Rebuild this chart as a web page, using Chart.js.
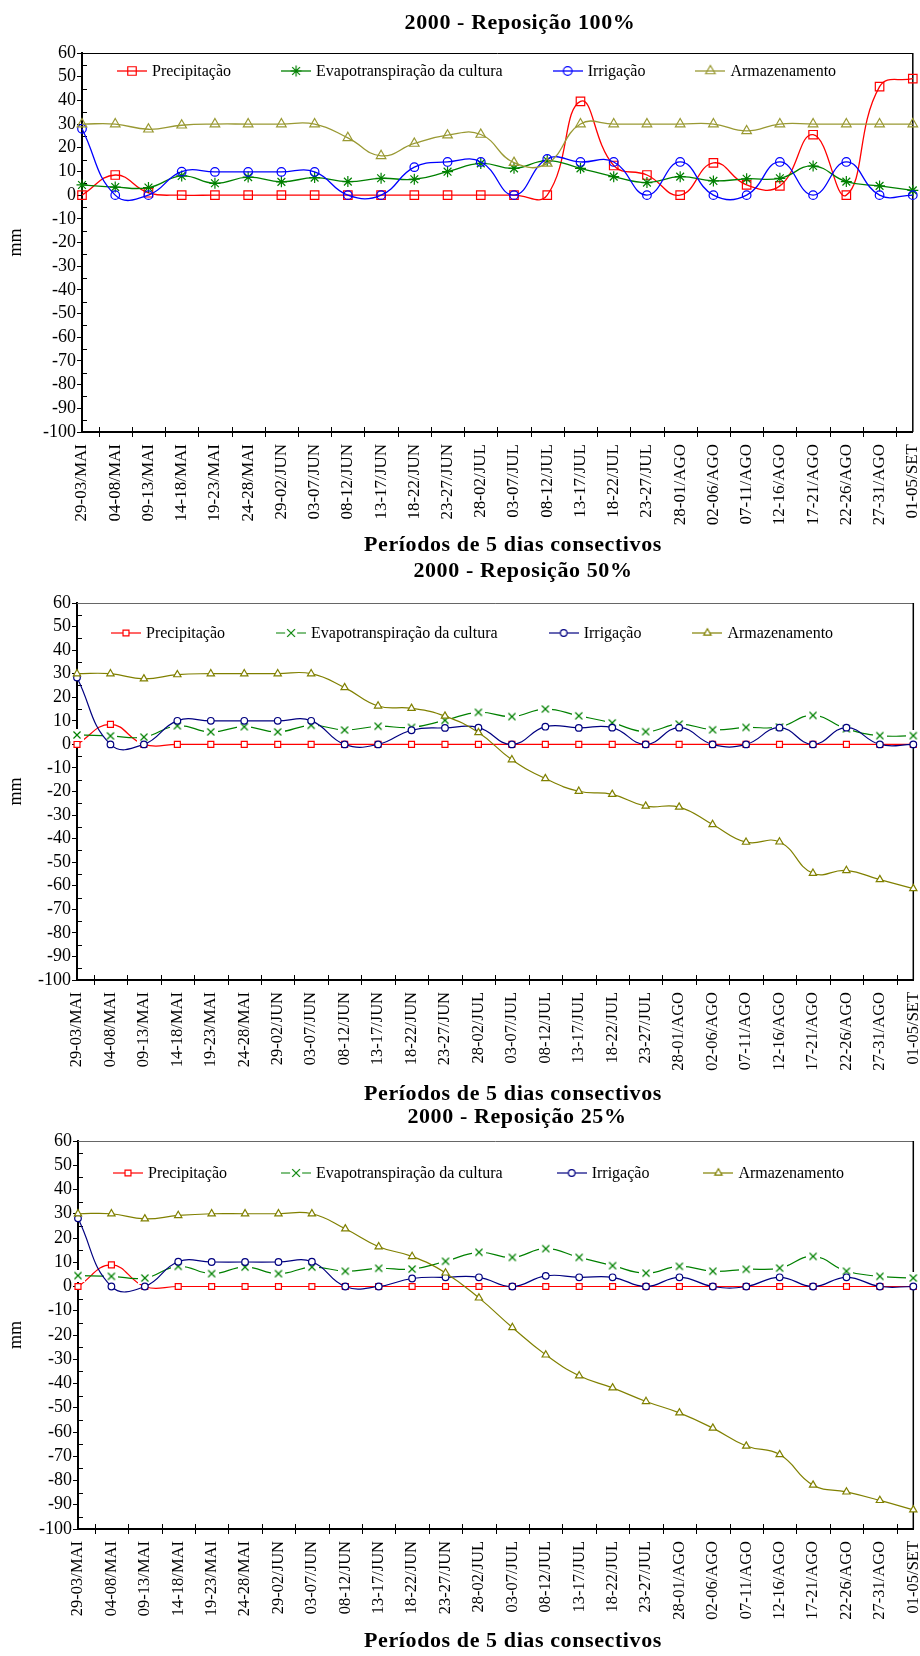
<!DOCTYPE html>
<html lang="pt">
<head>
<meta charset="utf-8">
<title>2000 - Reposição</title>
<script src="https://cdn.jsdelivr.net/npm/chart.js@4.4.1/dist/chart.umd.min.js"></script>
<style>
  html, body { margin: 0; padding: 0; background: #fff; }
  body { position: relative; width: 920px; height: 1656px; overflow: hidden; font-family: 'Liberation Serif', 'Times New Roman', serif; color: #000; }
  .panel { position: absolute; left: 0; width: 920px; }
  .panel canvas { display: block; }
  .chart-title, .x-title { position: absolute; text-align: center; font-weight: bold; white-space: nowrap; z-index: 2; }
  .chart-title { left: 320px; width: 400px; font-size: 22px; line-height: 26px; letter-spacing: 0.6px; }
  .x-title { left: 313px; width: 400px; font-size: 22px; line-height: 24px; letter-spacing: 0.6px; }
</style>
</head>
<body>
<div class="panel" style="top:0px"><canvas id="chart100" width="920" height="548"></canvas></div>
<div class="panel" style="top:548px"><canvas id="chart50" width="920" height="550"></canvas></div>
<div class="panel" style="top:1098px"><canvas id="chart25" width="920" height="558"></canvas></div>

<div class="chart-title" style="top:9px">2000 - Reposição 100%</div>
<div class="x-title" style="top:532px">Períodos de 5 dias consectivos</div>
<div class="chart-title" style="top:557px; left:323px">2000 - Reposição 50%</div>
<div class="x-title" style="top:1081px">Períodos de 5 dias consectivos</div>
<div class="chart-title" style="top:1103px; left:317px">2000 - Reposição 25%</div>
<div class="x-title" style="top:1628px">Períodos de 5 dias consectivos</div>

<script>
// 5-day periods, May to September 2000
const categories = ['29-03/MAI', '04-08/MAI', '09-13/MAI', '14-18/MAI', '19-23/MAI', '24-28/MAI',
    '29-02/JUN', '03-07/JUN', '08-12/JUN', '13-17/JUN', '18-22/JUN', '23-27/JUN',
    '28-02/JUL', '03-07/JUL', '08-12/JUL', '13-17/JUL', '18-22/JUL', '23-27/JUL',
    '28-01/AGO', '02-06/AGO', '07-11/AGO', '12-16/AGO', '17-21/AGO', '22-26/AGO',
    '27-31/AGO', '01-05/SET'];

const seriesLabels = ['Precipitação', 'Evapotranspiração da cultura', 'Irrigação', 'Armazenamento'];

// Reposição 100%
const precip100 = [0, 8.5, 1, 0, 0, 0, 0, 0, 0, 0, 0, 0, 0, 0, 0, 39.6, 12.5, 8.5, 0, 13.6, 4.3, 3.9, 25.5, 0, 45.8, 49.2];
const evapo100 = [4.3, 3.4, 3.2, 8.1, 5.0, 7.6, 5.6, 7.4, 5.7, 7.1, 6.7, 9.9, 13.4, 11.3, 14.6, 11.3, 7.8, 5.3, 7.8, 6.0, 6.9, 7.1, 12.3, 5.7, 3.9, 2.0];
const irrig100 = [28.0, 0, 0, 9.9, 9.8, 9.8, 9.8, 9.8, 0, 0, 11.8, 14.0, 14.0, 0, 15.3, 14.0, 14.0, 0, 14.0, 0, 0, 14.0, 0, 14.0, 0, 0];
const armaz100 = [30, 30, 27.8, 29.5, 30, 30, 30, 30, 24.2, 16.6, 21.8, 25.3, 25.6, 13.7, 13.4, 30, 30, 30, 30, 30, 27.1, 30, 30, 30, 30, 30];

// Reposição 50%
const precip50 = [0, 8.5, 0, 0, 0, 0, 0, 0, 0, 0, 0, 0, 0, 0, 0, 0, 0, 0, 0, 0, 0, 0, 0, 0, 0, 0];
const evapo50 = [4.0, 3.6, 3.1, 7.9, 5.3, 7.5, 5.3, 8.1, 6.1, 7.7, 7.2, 10.2, 13.6, 11.8, 15.0, 12.1, 9.1, 5.4, 8.6, 6.2, 7.2, 7.4, 12.3, 6.6, 3.7, 3.7];
const irrig50 = [28.4, 0, 0, 10, 10, 10, 10, 10, 0, 0, 6.0, 7.0, 7.1, 0, 7.5, 7.0, 7.1, 0, 7.1, 0, 0, 7.1, 0, 7.1, 0, 0];
const armaz50 = [30, 30, 27.8, 29.6, 30, 30, 30, 30, 24.1, 16.3, 15.3, 12.0, 5.0, -6.5, -14.5, -19.9, -21.2, -26.2, -26.6, -34.0, -41.5, -41.4, -54.7, -53.5, -57.4, -61.2];

// Reposição 25%
const precip25 = [0, 8.9, 0, 0, 0, 0, 0, 0, 0, 0, 0, 0, 0, 0, 0, 0, 0, 0, 0, 0, 0, 0, 0, 0, 0, 0];
const evapo25 = [4.5, 4.2, 3.5, 8.3, 5.3, 8.0, 5.3, 8.0, 6.3, 7.5, 7.2, 10.4, 14.1, 12.0, 15.6, 12.0, 8.6, 5.5, 8.3, 6.3, 7.1, 7.6, 12.4, 6.3, 4.2, 3.5];
const irrig25 = [28.1, 0, 0, 10.2, 10.1, 10.1, 10.1, 10.2, 0, 0, 3.3, 3.8, 3.8, 0, 4.4, 3.8, 3.8, 0, 3.8, 0, 0, 3.8, 0, 3.8, 0, 0];
const armaz25 = [30, 30, 27.9, 29.3, 30, 30, 30, 30, 23.8, 16.4, 12.4, 5.6, -4.7, -16.9, -28.2, -36.8, -41.8, -47.4, -52.1, -58.4, -65.8, -69.3, -81.9, -84.7, -88.2, -92.1];

// y axis range (mm)
const yMin = -100;
const yMax = 60;
const yStep = 10;

const FONT = "'Liberation Serif', 'Times New Roman', serif";
const LEGEND_SIZE = 16;
const TENSION = 0.45;

Chart.defaults.font.family = FONT;
Chart.defaults.color = '#000';

// draws one marker shape, used for the legend icons
function drawMarker(ctx, kind, x, y, r, color, fill, lw) {
    ctx.save();
    ctx.strokeStyle = color;
    ctx.fillStyle = fill;
    ctx.lineWidth = lw;
    ctx.beginPath();
    const k = Math.sin(Math.PI / 3);
    const d = r * Math.SQRT1_2;
    if (kind === 'rect') {
        ctx.rect(x - d, y - d, 2 * d, 2 * d);
    } else if (kind === 'circle') {
        ctx.arc(x, y, r, 0, Math.PI * 2);
    } else if (kind === 'triangle') {
        ctx.moveTo(x, y - r);
        ctx.lineTo(x + r * k, y + r / 2);
        ctx.lineTo(x - r * k, y + r / 2);
        ctx.closePath();
    } else if (kind === 'star') {
        ctx.moveTo(x, y - r); ctx.lineTo(x, y + r);
        ctx.moveTo(x - r, y); ctx.lineTo(x + r, y);
        ctx.moveTo(x - d, y - d); ctx.lineTo(x + d, y + d);
        ctx.moveTo(x - d, y + d); ctx.lineTo(x + d, y - d);
    } else if (kind === 'crossRot') {
        ctx.moveTo(x - d, y - d); ctx.lineTo(x + d, y + d);
        ctx.moveTo(x - d, y + d); ctx.lineTo(x + d, y - d);
    }
    if (kind === 'rect' || kind === 'circle' || kind === 'triangle') {
        ctx.fill();
    }
    ctx.stroke();
    ctx.restore();
}

// "x" marker on a small white box, so the line stops short of it
function crossPoint(color, r) {
    const c = document.createElement('canvas');
    c.width = 14;
    c.height = 12;
    const ctx = c.getContext('2d');
    ctx.fillStyle = '#fff';
    ctx.fillRect(0, 0, 14, 12);
    drawMarker(ctx, 'crossRot', 7, 6, r, color, 'transparent', 1.2);
    return c;
}

function legendIcon(st) {
    const c = document.createElement('canvas');
    c.width = 30;
    c.height = 16;
    const ctx = c.getContext('2d');
    ctx.strokeStyle = st.color;
    ctx.lineWidth = st.lw;
    ctx.beginPath();
    if (st.gap) {
        ctx.moveTo(0, 8); ctx.lineTo(9, 8);
        ctx.moveTo(21, 8); ctx.lineTo(30, 8);
    } else {
        ctx.moveTo(0, 8); ctx.lineTo(30, 8);
    }
    ctx.stroke();
    drawMarker(ctx, st.marker, 15, 8, st.legendR || st.r, st.color, st.fill, 1.2);
    return c;
}

const stylesBig = [
    {color: '#FF0000', marker: 'rect', r: 6, fill: 'rgba(0,0,0,0)', lw: 1.3},
    {color: '#008000', marker: 'star', r: 5.5, fill: 'rgba(0,0,0,0)', lw: 1.3},
    {color: '#0000FF', marker: 'circle', r: 4.3, fill: 'rgba(0,0,0,0)', lw: 1.3},
    {color: '#999933', marker: 'triangle', r: 5.5, fill: 'rgba(0,0,0,0)', lw: 1.3}
];
const stylesSmall = [
    {color: '#FF0000', marker: 'rect', r: 4.2, fill: '#fff', lw: 1.2},
    {color: '#008000', marker: 'crossRot', r: 5.5, fill: 'rgba(0,0,0,0)', lw: 1.2, gap: true},
    {color: '#000080', marker: 'circle', r: 3.3, fill: '#fff', lw: 1.2},
    {color: '#808000', marker: 'triangle', r: 4.2, fill: '#fff', lw: 1.2}
];

function makeDatasets(values, styles) {
    return values.map((data, i) => {
        const st = styles[i];
        const pointStyle = st.gap ? crossPoint(st.color, 5) : st.marker;
        return {
            label: seriesLabels[i],
            data: data,
            borderColor: st.color,
            backgroundColor: st.color,
            borderWidth: st.lw,
            pointStyle: pointStyle,
            pointRadius: st.r,
            pointBorderWidth: 1.2,
            pointBorderColor: st.color,
            pointBackgroundColor: st.fill,
            tension: TENSION,
            clip: false,
            order: 3 - i
        };
    });
}

// plot frame, minor ticks and the line+marker legend inside the plot
const framePlugin = {
    id: 'frame',
    beforeDatasetsDraw(chart, args, opts) {
        const {ctx, chartArea: a, scales} = chart;
        const x = scales.x, y = scales.y;
        ctx.save();
        ctx.strokeStyle = opts.topColor;
        ctx.lineWidth = 1;
        ctx.beginPath();
        ctx.moveTo(a.left, a.top + 0.5);
        ctx.lineTo(a.right, a.top + 0.5);
        ctx.stroke();
        ctx.strokeStyle = '#000';
        ctx.lineWidth = 1.5;
        ctx.beginPath();
        ctx.moveTo(a.right, a.top);
        ctx.lineTo(a.right, a.bottom);
        ctx.stroke();

        ctx.lineWidth = 1;
        ctx.beginPath();
        for (let v = yMin + yStep / 2; v < yMax; v += yStep) {
            const py = Math.round(y.getPixelForValue(v)) + 0.5;
            ctx.moveTo(a.left, py);
            ctx.lineTo(a.left + 5, py);
        }
        for (let i = 0; i < categories.length - 1; i++) {
            const px = Math.round((x.getPixelForValue(i) + x.getPixelForValue(i + 1)) / 2) + 0.5;
            ctx.moveTo(px, a.bottom - 5);
            ctx.lineTo(px, a.bottom + 5);
        }
        ctx.stroke();
        ctx.restore();
    },
    afterDatasetsDraw(chart, args, opts) {
        const ctx = chart.ctx;
        ctx.save();
        ctx.font = LEGEND_SIZE + 'px ' + FONT;
        ctx.textBaseline = 'middle';
        ctx.textAlign = 'left';
        ctx.fillStyle = '#000';
        let lx = opts.legendX;
        chart.data.datasets.forEach((ds, i) => {
            const icon = opts.icons[i];
            ctx.drawImage(icon, lx, opts.legendY - icon.height / 2);
            const tx = lx + icon.width + 5;
            ctx.fillText(ds.label, tx, opts.legendY + 1);
            lx = tx + ctx.measureText(ds.label).width + opts.legendGap;
        });
        ctx.restore();
    }
};

function buildChart(cfg) {
    const canvas = document.getElementById(cfg.id);
    const H = canvas.height;
    return new Chart(canvas.getContext('2d'), {
        type: 'line',
        data: {
            labels: categories,
            datasets: makeDatasets(cfg.values, cfg.styles)
        },
        options: {
            responsive: false,
            animation: false,
            events: [],
            layout: {
                padding: {top: cfg.top, right: 920 - cfg.right, bottom: 0, left: 0}
            },
            plugins: {
                legend: {display: false},
                tooltip: {enabled: false},
                frame: {
                    topColor: cfg.topColor,
                    icons: cfg.styles.map(legendIcon),
                    legendX: cfg.legendX,
                    legendY: cfg.legendY,
                    legendGap: cfg.legendGap
                }
            },
            scales: {
                x: {
                    type: 'category',
                    offset: false,
                    grid: {display: false},
                    border: {display: true, color: '#000', width: 2},
                    ticks: {
                        autoSkip: false,
                        minRotation: 90,
                        maxRotation: 90,
                        padding: 4,
                        color: '#000',
                        font: {size: cfg.xFont}
                    },
                    afterFit: s => {
                        s.height = H - cfg.bottom;
                        s.paddingLeft = 0;
                        s.paddingRight = 0;
                    }
                },
                y: {
                    min: yMin,
                    max: yMax,
                    grid: {
                        display: true,
                        drawOnChartArea: false,
                        drawTicks: true,
                        tickLength: 5,
                        color: '#000',
                        lineWidth: 1
                    },
                    border: {display: true, color: '#000', width: 2},
                    ticks: {
                        stepSize: yStep,
                        autoSkip: false,
                        padding: 1,
                        color: '#000',
                        font: {size: 18}
                    },
                    title: {
                        display: true,
                        text: 'mm',
                        color: '#000',
                        font: {size: 18},
                        padding: {top: 5, bottom: 0}
                    },
                    afterFit: s => {
                        s.width = cfg.left;
                    }
                }
            }
        },
        plugins: [framePlugin]
    });
}

buildChart({
    id: 'chart100',
    values: [precip100, evapo100, irrig100, armaz100],
    styles: stylesBig,
    top: 53, bottom: 432, left: 82, right: 913,
    topColor: '#000', xFont: 17,
    legendX: 117, legendY: 71, legendGap: 50
});

buildChart({
    id: 'chart50',
    values: [precip50, evapo50, irrig50, armaz50],
    styles: stylesSmall,
    top: 55, bottom: 432, left: 77, right: 914,
    topColor: '#666', xFont: 16.5,
    legendX: 111, legendY: 85, legendGap: 51
});

buildChart({
    id: 'chart25',
    values: [precip25, evapo25, irrig25, armaz25],
    styles: stylesSmall,
    top: 43, bottom: 431, left: 78, right: 916,
    topColor: '#666', xFont: 16.5,
    legendX: 113, legendY: 75, legendGap: 54
});
</script>
</body>
</html>
